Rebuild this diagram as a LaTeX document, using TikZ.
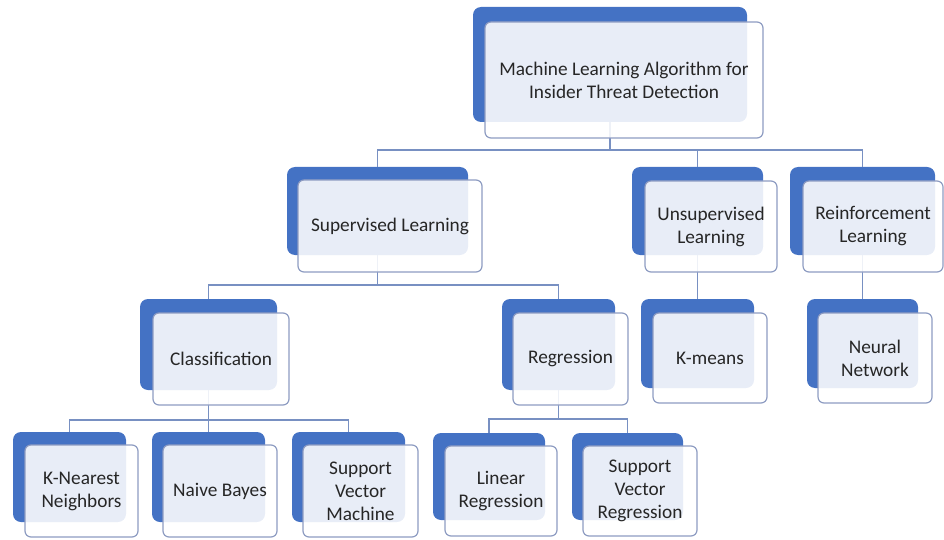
\documentclass[tikz,border=0pt]{standalone}
\usepackage{fontspec}
\setmainfont{Carlito}
\definecolor{mlblue}{HTML}{4472C4}
\definecolor{mlborder}{HTML}{8E9CC2}
\definecolor{mlline}{HTML}{7890C2}
\definecolor{mltext}{HTML}{262626}

% back (blue) card: name, x1, y1, x2, y2
\newcommand\backcard[5]{%
  \node[backshape, minimum width={(#4)-(#2)}, minimum height={(#5)-(#3)}]
    (#1) at ({((#2)+(#4))/2},{((#3)+(#5))/2}) {};}
% front (light) card with label: name, x1, y1, x2, y2, text
\newcommand\frontcard[6]{%
  \node[frontshape, minimum width={(#4)-(#2)}, minimum height={(#5)-(#3)}]
    (#1) at ({((#2)+(#4))/2},{((#3)+(#5))/2}) {#6};}

\begin{document}
\begin{tikzpicture}[x=1pt,y=-1pt,
  backshape/.style={fill=mlblue, draw=none, rounded corners=8pt, inner sep=0pt, outer sep=0pt},
  frontshape/.style={fill=white, fill opacity=0.88, text opacity=1, draw=mlborder,
    draw opacity=1, line width=1.2pt, rounded corners=6pt, inner sep=2pt, outer sep=0pt,
    align=center, text=mltext, font=\fontsize{19.3}{23}\selectfont},
  conn/.style={draw=mlline, line width=1.3pt}]
\useasboundingbox (0,0) rectangle (944,540);

% blue back cards
\backcard{topb}{473}{7}{747}{122}
\backcard{supb}{287}{167}{468}{255}
\backcard{unsb}{632}{167}{763}{255}
\backcard{reib}{790}{167}{935}{255}
\backcard{clab}{140}{299}{277}{390}
\backcard{regb}{502}{299}{615}{390}
\backcard{kmeb}{641}{299}{754}{388}
\backcard{neub}{807}{299}{918}{388}
\backcard{knnb}{13}{432}{126}{522}
\backcard{nbb}{152}{432}{265}{522}
\backcard{svmb}{292}{432}{405}{522}
\backcard{linb}{433}{433}{545}{520}
\backcard{svrb}{572}{433}{683}{520}

% tree connectors
\draw[conn] (topb.south) -- ++(0,28) -| (supb.north);
\draw[conn] (topb.south) -- ++(0,28) -| (unsb.north);
\draw[conn] (topb.south) -- ++(0,28) -| (reib.north);
\draw[conn] (supb.south) -- ++(0,30) -| (clab.north);
\draw[conn] (supb.south) -- ++(0,30) -| (regb.north);
\draw[conn] (unsb.south) -- (kmeb.north);
\draw[conn] (reib.south) -- (neub.north);
\draw[conn] (clab.south) -- ++(0,30) -| (knnb.north);
\draw[conn] (clab.south) -- ++(0,30) -| (nbb.north);
\draw[conn] (clab.south) -- ++(0,30) -| (svmb.north);
\draw[conn] (regb.south) -- ++(0,29) -| (linb.north);
\draw[conn] (regb.south) -- ++(0,29) -| (svrb.north);

% light front cards with labels
\frontcard{topf}{485}{22}{763}{138}{Machine Learning Algorithm for\\Insider Threat Detection}
\frontcard{supf}{298}{180}{482}{272}{Supervised Learning}
\frontcard{unsf}{645}{181}{777}{272}{Unsupervised\\Learning}
\frontcard{reif}{803}{181}{943}{272}{Reinforcement\\Learning}
\frontcard{claf}{153}{313}{289}{405}{Classification}
\frontcard{regf}{513}{313}{628}{405}{Regression}
\frontcard{kmef}{653}{313}{767}{403}{K-means}
\frontcard{neuf}{818}{313}{932}{403}{Neural\\Network}
\frontcard{knnf}{25}{445}{138}{537}{K-Nearest\\Neighbors}
\frontcard{nbf}{163}{445}{277}{537}{Naive Bayes}
\frontcard{svmf}{303}{445}{418}{537}{Support\\Vector\\Machine}
\frontcard{linf}{445}{446}{557}{536}{Linear\\Regression}
\frontcard{svrf}{583}{446}{697}{536}{Support\\Vector\\Regression}
\end{tikzpicture}
\end{document}
